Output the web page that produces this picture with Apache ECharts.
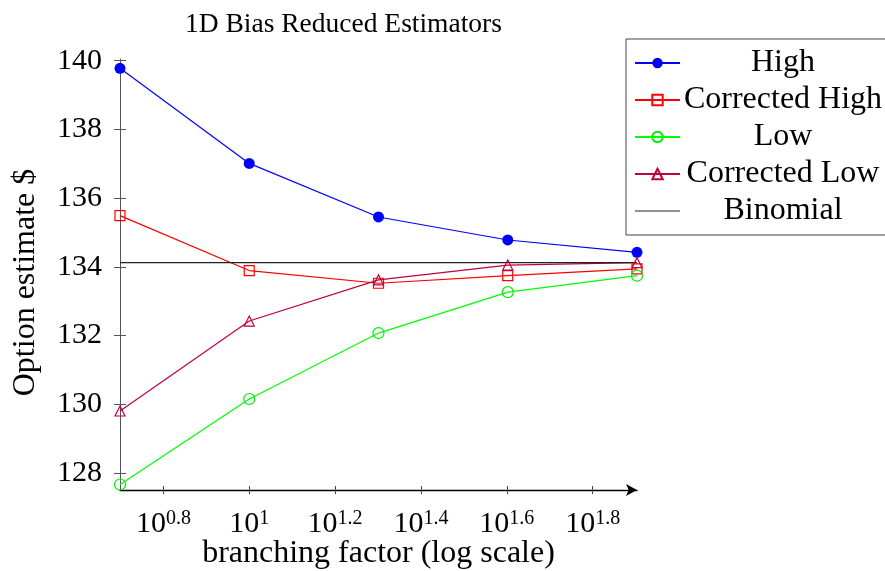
<!DOCTYPE html>
<html>
<head>
<meta charset="utf-8">
<script src="https://cdn.jsdelivr.net/npm/echarts@6/dist/echarts.min.js"></script>
<style>
  html, body { margin: 0; padding: 0; background: #fff; }
  #main { width: 885px; height: 571px; }
</style>
</head>
<body>
<div id="main"></div>
<script>
// branching factors (x, log axis)
const branching = [5, 10, 20, 40, 80];

// option estimates
const high = [139.78, 137.01, 135.45, 134.78, 134.42];
const correctedHigh = [135.49, 133.89, 133.52, 133.74, 133.94];
const low = [127.66, 130.15, 132.07, 133.26, 133.74];
const correctedLow = [129.8, 132.42, 133.62, 134.05, 134.12];
const binomial = [134.12, 134.12, 134.12, 134.12, 134.12];

// tick exponents and y tick labels
const xTickExp = [0.8, 1.0, 1.2, 1.4, 1.6, 1.8];
const yTicks = [128, 130, 132, 134, 136, 138, 140];

const FONT = "Liberation Serif";
const xTickValues = xTickExp.map((e) => Math.pow(10, e));

function pairs(ys) {
  return branching.map((x, i) => [x, ys[i]]);
}

function outlined(color) {
  return { color: "rgba(255,255,255,0)", borderColor: color, borderWidth: 1.2 };
}

const chart = echarts.init(document.getElementById("main"));

const xBase = {
  type: "log",
  logBase: 10,
  min: 5,
  max: 80,
  position: "bottom",
  splitLine: { show: false },
};
const yBase = {
  type: "value",
  min: 127.5,
  max: 140.05,
  position: "left",
  splitLine: { show: false },
};

chart.setOption({
  animation: false,
  textStyle: { fontFamily: FONT, color: "#000" },
  title: {
    text: "1D Bias Reduced Estimators",
    left: 180,
    top: 6,
    textStyle: { fontFamily: FONT, fontSize: 27.5, fontWeight: "normal", color: "#000" },
  },
  legend: {
    orient: "vertical",
    left: 626,
    top: 39,
    padding: [8, 8, 8, 8],
    itemGap: 5,
    itemWidth: 45,
    itemHeight: 13,
    backgroundColor: "#fff",
    borderColor: "#444",
    borderWidth: 1,
    data: [
      { name: "High" },
      { name: "Corrected High" },
      { name: "Low" },
      { name: "Corrected Low" },
      { name: "Binomial", icon: "path://M0,0H45V1H0Z" },
    ],
    formatter: (name) => "{t|" + name + "}",
    textStyle: {
      rich: {
        t: { width: 196, align: "center", fontSize: 32, lineHeight: 32, fontFamily: FONT, color: "#000" },
      },
    },
  },
  grid: { left: 120, right: 248, top: 59, bottom: 81, containLabel: false, outerBoundsMode: "none" },
  xAxis: [
    Object.assign({}, xBase, {
      name: "branching factor (log scale)",
      nameLocation: "middle",
      nameGap: 48,
      nameMoveOverlap: false,
      nameTextStyle: { fontFamily: FONT, fontSize: 32, color: "#000" },
      axisLine: {
        show: true,
        symbol: ["none", "arrow"],
        symbolSize: [9, 11],
        lineStyle: { color: "#000", width: 1.3 },
      },
      axisTick: { show: true, length: 4, customValues: xTickValues, lineStyle: { color: "#444" } },
      axisLabel: {
        customValues: xTickValues,
        margin: 19,
        formatter: (v) => {
          const e = Math.round(Math.log10(v) * 10) / 10;
          return "{b|10}{s|" + (e === 1 ? "1" : e.toString()) + "}";
        },
        rich: {
          b: { fontSize: 30, fontFamily: FONT, color: "#000", lineHeight: 30, verticalAlign: "bottom" },
          s: { fontSize: 20, fontFamily: FONT, color: "#000", lineHeight: 15, verticalAlign: "top" },
        },
      },
    }),
    Object.assign({}, xBase, {
      axisLine: { show: false },
      axisTick: { show: true, inside: true, length: 4, customValues: xTickValues, lineStyle: { color: "#444" } },
      axisLabel: { show: false },
    }),
  ],
  yAxis: [
    Object.assign({}, yBase, {
      name: "Option estimate $",
      nameLocation: "middle",
      nameGap: 78,
      nameMoveOverlap: false,
      nameTextStyle: { fontFamily: FONT, fontSize: 32, color: "#000", padding: [0, 16, 0, 0] },
      axisLine: { show: true, lineStyle: { color: "#555", width: 1 } },
      axisTick: { show: true, length: 6, customValues: yTicks, lineStyle: { color: "#555" } },
      axisLabel: { customValues: yTicks, margin: 18, fontSize: 30, fontFamily: FONT, color: "#000" },
    }),
    Object.assign({}, yBase, {
      axisLine: { show: false },
      axisTick: { show: true, inside: true, length: 6, customValues: yTicks, lineStyle: { color: "#555" } },
      axisLabel: { show: false },
    }),
  ],
  series: [
    {
      name: "High",
      type: "line",
      data: pairs(high),
      symbol: "circle",
      symbolSize: 11,
      color: "#0000ff",
      itemStyle: { color: "#0000ff" },
      lineStyle: { color: "#0000ff", width: 1.2 },
    },
    {
      name: "Corrected High",
      type: "line",
      data: pairs(correctedHigh),
      symbol: "rect",
      symbolSize: 10,
      color: "#ff0000",
      itemStyle: outlined("#ff0000"),
      lineStyle: { color: "#ff0000", width: 1.2 },
    },
    {
      name: "Low",
      type: "line",
      data: pairs(low),
      symbol: "circle",
      symbolSize: 11,
      color: "#00ff00",
      itemStyle: outlined("#00ee00"),
      lineStyle: { color: "#00ff00", width: 1.2 },
    },
    {
      name: "Corrected Low",
      type: "line",
      data: pairs(correctedLow),
      symbol: "triangle",
      symbolSize: 10,
      color: "#bf0040",
      itemStyle: outlined("#bf0040"),
      lineStyle: { color: "#bf0040", width: 1.2 },
    },
    {
      name: "Binomial",
      type: "line",
      data: pairs(binomial),
      symbol: "none",
      color: "#222",
      lineStyle: { color: "#222", width: 1.2 },
    },
  ],
});
</script>
</body>
</html>
